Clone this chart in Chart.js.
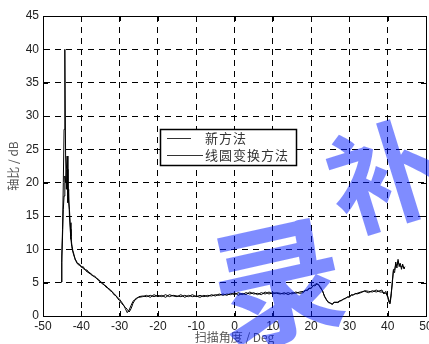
<!DOCTYPE html>
<html lang="zh">
<head>
<meta charset="UTF-8">
<title>轴比 扫描角度</title>
<script src="https://cdn.jsdelivr.net/npm/chart.js@4.4.0/dist/chart.umd.min.js"></script>
<style>
  * { margin: 0; padding: 0; box-sizing: border-box; }
  body { width: 429px; height: 344px; overflow: hidden; background: #fff; }
  .wrap { position: relative; width: 440px; height: 344px; }
</style>
</head>
<body>
<div class="wrap"><canvas id="arChart"></canvas></div>
<script>
/* ---------- data ---------- */
const angles = [
  -45.3, -45.1, -44.9, -44.7, -44.5, -44.3, -44.1, -43.9, -43.7, -43.5,
  -43.3, -43.1, -42.9, -42.7, -42.5, -42.2, -41.9, -41.6, -41.3, -41.0,
  -40.5, -40, -39.5, -39, -38.5, -38, -37.5, -37, -36.5, -36, -35.5, -35,
  -34.5, -34, -33.5, -33, -32.5, -32, -31.5, -31, -30.5, -30, -29.5, -29,
  -28.5, -28, -27.5, -27, -26.5, -26, -25.5, -25,
  -24, -23, -22, -21, -20, -19, -18, -17, -16, -15, -14, -13, -12, -11,
  -10, -9, -8, -7, -6, -5, -4, -3, -2, -1, 0, 1, 2, 3, 4, 5, 6, 7, 8, 9,
  10, 11, 12, 13, 14, 15, 16, 17,
  18, 18.5, 19, 19.5, 20, 20.5, 21, 21.5, 22, 22.5, 23, 23.5, 24, 24.5,
  25, 25.5, 26, 26.5, 27, 27.5, 28, 28.5, 29, 29.5, 30, 30.5, 31, 31.5, 32,
  33, 34, 35, 36, 37, 38, 38.5, 39, 39.5, 40,
  40.3, 40.6, 40.9, 41.2, 41.5, 41.8, 42.1, 42.4, 42.7, 43, 43.3, 43.6, 43.9, 44.2, 44.5
];

// 新方法
const newMethod = [
  5.1, 9, 13, 20, 28, 40, 24, 19, 22, 17,
  19, 15, 13, 11.5, 10.4, 9.6, 9.0, 8.6, 8.1, 7.9,
  7.8, 7.3, 7.4, 6.9, 6.9, 6.4, 6.4, 6.0, 6.0, 5.6, 5.5, 5.1,
  5.0, 4.6, 4.5, 4.1, 4.0, 3.6, 3.4, 3.0, 2.8, 2.5, 2.1, 1.7,
  1.1, 0.5, 0.9, 1.6, 2.2, 2.5, 2.7, 2.8,
  2.9, 3.1, 2.8, 3.2, 2.9, 3.1, 2.8, 3.2, 3.0, 2.9, 3.2, 2.8, 3.1, 2.9,
  3.0, 2.8, 3.1, 2.9, 3.2, 3.0, 3.3, 3.1, 3.3, 3.2, 3.5, 3.1, 3.4, 3.2, 3.6, 3.3, 3.4, 3.2, 3.6, 3.3,
  3.5, 3.4, 3.3, 3.5, 3.2, 3.5, 3.4, 3.6,
  3.7, 3.8, 3.9, 4.1, 4.2, 4.5, 4.7, 4.9, 4.6, 4.3, 3.7, 3.0, 2.4, 2.1,
  1.9, 1.8, 2.0, 2.1, 2.0, 2.2, 2.4, 2.5, 2.7, 2.8, 2.9, 3.1, 3.2, 3.3, 3.4,
  3.6, 3.7, 3.5, 3.8, 3.6, 3.8, 3.9, 3.3, 3.7, 2.8,
  2.1, 1.8, 3.0, 5.2, 6.8, 6.5, 8.1, 7.2, 8.5, 7.4, 7.9, 7.0, 7.8, 7.1, 7.4
];

// 线圆变换方法
const circleMethod = [
  5.1, 8, 12, 16, 18, 21, 20, 22, 24, 19,
  17, 16, 14, 12, 10.8, 9.8, 9.2, 8.4, 8.3, 7.8,
  7.6, 7.5, 7.1, 7.0, 6.6, 6.6, 6.2, 6.1, 5.8, 5.7, 5.3, 5.2,
  4.8, 4.7, 4.3, 4.2, 3.8, 3.7, 3.2, 3.1, 2.6, 2.3, 1.9, 1.6,
  1.3, 1.0, 0.6, 1.1, 1.9, 2.4, 2.6, 2.9,
  3.0, 2.9, 3.1, 2.9, 3.1, 2.9, 3.2, 2.9, 3.1, 3.0, 2.9, 3.1, 2.9, 3.2,
  2.9, 3.1, 2.9, 3.1, 3.0, 3.2, 3.1, 3.3, 3.1, 3.4, 3.2, 3.5, 3.2, 3.5, 3.3, 3.5, 3.2, 3.5, 3.3, 3.6,
  3.3, 3.5, 3.4, 3.3, 3.5, 3.3, 3.6, 3.4,
  3.5, 3.9, 3.8, 4.2, 4.1, 4.6, 4.5, 4.8, 4.7, 4.1, 3.8, 2.9, 2.5, 2.0,
  2.0, 1.7, 2.1, 2.0, 2.1, 2.3, 2.3, 2.6, 2.6, 2.9, 2.8, 3.2, 3.1, 3.4, 3.3,
  3.5, 3.8, 3.7, 3.6, 3.9, 3.6, 3.6, 3.5, 3.4, 3.0,
  2.4, 2.0, 3.4, 4.8, 7.0, 6.9, 7.7, 7.6, 8.2, 7.8, 7.5, 7.3, 7.6, 7.2, 7.1
];

const seriesNames = ['新方法', '线圆变换方法'];

/* ---------- frame, inward ticks, legend, watermark ---------- */
const framePlugin = {
  id: 'frame',
  afterDraw(chart) {
    const { ctx, chartArea: a, scales } = chart;
    ctx.save();
    ctx.strokeStyle = '#000';
    ctx.lineWidth = 1;
    ctx.setLineDash([]);
    ctx.strokeRect(a.left + 0.5, a.top + 0.5, a.right - a.left, a.bottom - a.top);
    ctx.beginPath();
    scales.x.ticks.forEach(t => {
      const px = Math.round(scales.x.getPixelForValue(t.value)) + 0.5;
      ctx.moveTo(px, a.bottom); ctx.lineTo(px, a.bottom - 5);
      ctx.moveTo(px, a.top); ctx.lineTo(px, a.top + 5);
    });
    scales.y.ticks.forEach(t => {
      const py = Math.round(scales.y.getPixelForValue(t.value)) + 0.5;
      ctx.moveTo(a.left, py); ctx.lineTo(a.left + 5, py);
      ctx.moveTo(a.right, py); ctx.lineTo(a.right - 5, py);
    });
    ctx.stroke();

    // legend
    const bx = 160, by = 129, bw = 136, bh = 36;
    ctx.fillStyle = '#fff';
    ctx.fillRect(bx, by, bw, bh);
    ctx.lineWidth = 1.5;
    ctx.strokeRect(bx + 0.5, by + 0.5, bw, bh);
    ctx.lineWidth = 1;
    ctx.strokeStyle = '#333';
    ctx.beginPath();
    ctx.moveTo(167, 138.5); ctx.lineTo(191, 138.5);
    ctx.moveTo(167, 155.5); ctx.lineTo(203, 155.5);
    ctx.stroke();
    ctx.fillStyle = '#333';
    ctx.font = '13px "Noto Sans CJK SC"';
    ctx.letterSpacing = '1px';
    ctx.textBaseline = 'middle';
    ctx.fillText(seriesNames[0], 205, 138);
    ctx.fillText(seriesNames[1], 205, 155);
    ctx.letterSpacing = '0px';

    // watermark
    ctx.fillStyle = 'rgba(0, 25, 255, 0.5)';
    ctx.textAlign = 'center';
    ctx.font = 'bold 132px "Noto Sans CJK SC"';
    ctx.translate(278, 282);
    ctx.rotate(-0.22);
    ctx.fillText('录', 0, 0);
    ctx.setTransform(1, 0, 0, 1, 0, 0);
    ctx.font = 'bold 112px "Noto Sans CJK SC"';
    ctx.translate(384, 176);
    ctx.rotate(-0.3);
    ctx.fillText('补', 0, 0);
    ctx.restore();
  }
};

const tickFont = { family: '"Liberation Sans", Arial, sans-serif', size: 12 };
const titleFont = { family: '"Noto Sans CJK SC", sans-serif', size: 12 };

new Chart(document.getElementById('arChart'), {
  type: 'line',
  data: {
    datasets: [
      {
        label: seriesNames[0],
        data: angles.map((a, i) => ({ x: a, y: newMethod[i] })),
        borderColor: '#000',
        borderWidth: 1,
        pointRadius: 0,
        tension: 0
      },
      {
        label: seriesNames[1],
        data: angles.map((a, i) => ({ x: a, y: circleMethod[i] })),
        borderColor: '#000',
        borderWidth: 1,
        pointRadius: 0,
        tension: 0
      }
    ]
  },
  options: {
    responsive: true,
    maintainAspectRatio: false,
    animation: false,
    layout: { padding: { top: 16, right: 14, left: 0, bottom: 0 } },
    plugins: { legend: { display: false }, tooltip: { enabled: false } },
    scales: {
      x: {
        type: 'linear',
        min: -50, max: 50,
        ticks: { stepSize: 10, font: tickFont, color: '#222', padding: 3 },
        grid: { color: '#000', lineWidth: 1, drawTicks: false },
        border: { color: '#000', dash: [6, 5] },
        title: { display: true, text: '扫描角度 / Deg', font: titleFont, color: '#555', padding: { top: 0, bottom: -1 } },
        afterFit: s => { s.height = 28; }
      },
      y: {
        min: 0, max: 45,
        ticks: { stepSize: 5, font: tickFont, color: '#222', padding: 4 },
        grid: { color: '#000', lineWidth: 1, drawTicks: false },
        border: { color: '#000', dash: [6, 5] },
        title: { display: true, text: '轴比 / dB', font: titleFont, color: '#555', padding: { top: 6, bottom: 0 } },
        afterFit: s => { s.width = 43; }
      }
    }
  },
  plugins: [framePlugin]
});
</script>
</body>
</html>
